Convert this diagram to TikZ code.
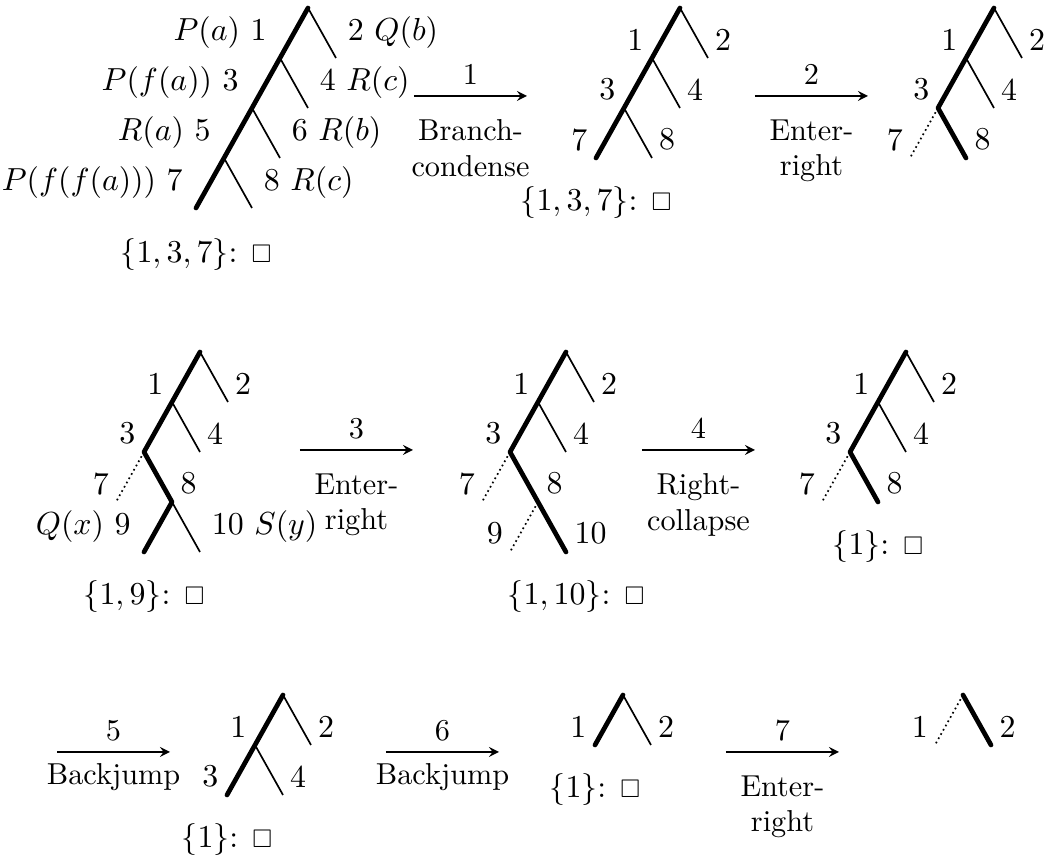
\documentclass[tikz,border=0pt]{standalone}
\usepackage{amsmath, amssymb}
\usepackage{tikz}
\newcommand{\closedmark}{{\footnotesize$\Box$}}
\tikzset{
  openbr/.style={line width=0.53pt},
  closedbr/.style={line width=1.48pt, line cap=round, line join=round},
  donebr/.style={line width=0.53pt, densely dotted},
  labl/.style={midway, left=1.06mm, yshift=-2.1pt},
  labr/.style={midway, right=1.06mm, yshift=-2.1pt},
  mlabl/.style={midway, left=1.59mm},
  mlabr/.style={midway, right=1.59mm},
  rulelab/.style={font=\fontsize{9.5}{11.1}\selectfont, align=center},
}

\begin{document}
\begin{tikzpicture}[>=stealth, x=1.1026cm, y=1.1026cm]
  \useasboundingbox (0,0) rectangle (10.5,8.56);
  % initial tableau
  \begin{scope}[shift={(3.08,8.48)}]
    \coordinate (a0) at (0,0);
    \coordinate (a1) at (-0.28,-0.5); \coordinate (a2) at (0.28,-0.5);
    \coordinate (a3) at (-0.56,-1);   \coordinate (a4) at (0,-1);
    \coordinate (a5) at (-0.84,-1.5); \coordinate (a6) at (-0.28,-1.5);
    \coordinate (a7) at (-1.12,-2);   \coordinate (a8) at (-0.56,-2);
    \draw[closedbr] (a0) -- node[mlabl] (ta1) {$P(a)$ 1} (a1)
      -- node[mlabl] (ta3) {$P(f(a))$ 3} (a3)
      -- node[mlabl] (ta5) {$R(a)$ 5} (a5)
      -- node[mlabl] (ta7) {$P(f(f(a)))$ 7} (a7);
    \draw[openbr] (a0) -- node[mlabr] (ta2) {2 $Q(b)$} (a2);
    \draw[openbr] (a1) -- node[mlabr] (ta4) {4 $R(c)$} (a4);
    \draw[openbr] (a3) -- node[mlabr] (ta6) {6 $R(b)$} (a6);
    \draw[openbr] (a5) -- node[mlabr] (ta8) {8 $R(c)$} (a8);
    \node (ca) at (-1.12,-2.47) {$\{1,3,7\}$: \closedmark};
  \end{scope}
  % after branch-condense
  \begin{scope}[shift={(6.80,8.48)}]
    \coordinate (b0) at (0,0);
    \coordinate (b1) at (-0.28,-0.5); \coordinate (b2) at (0.28,-0.5);
    \coordinate (b3) at (-0.56,-1);   \coordinate (b4) at (0,-1);
    \coordinate (b7) at (-0.84,-1.5); \coordinate (b8) at (-0.28,-1.5);
    \draw[closedbr] (b0) -- node[labl] (tb1) {1} (b1)
      -- node[labl] (tb3) {3} (b3) -- node[labl] (tb7) {7} (b7);
    \draw[openbr] (b0) -- node[labr] (tb2) {2} (b2);
    \draw[openbr] (b1) -- node[labr] (tb4) {4} (b4);
    \draw[openbr] (b3) -- node[labr] (tb8) {8} (b8);
    \node (cb) at (-0.84,-1.95) {$\{1,3,7\}$: \closedmark};
  \end{scope}
  % enter right
  \begin{scope}[shift={(9.94,8.48)}]
    \coordinate (c0) at (0,0);
    \coordinate (c1) at (-0.28,-0.5); \coordinate (c2) at (0.28,-0.5);
    \coordinate (c3) at (-0.56,-1);   \coordinate (c4) at (0,-1);
    \coordinate (c7) at (-0.84,-1.5); \coordinate (c8) at (-0.28,-1.5);
    \draw[closedbr] (c0) -- node[labl] (tc1) {1} (c1)
      -- node[labl] (tc3) {3} (c3) -- node[labr] (tc8) {8} (c8);
    \draw[openbr] (c0) -- node[labr] (tc2) {2} (c2);
    \draw[openbr] (c1) -- node[labr] (tc4) {4} (c4);
    \draw[donebr] (c3) -- node[labl] (tc7) {7} (c7);
  \end{scope}
  % second row
  \begin{scope}[shift={(2.00,5.04)}]
    \coordinate (d0) at (0,0);
    \coordinate (d1) at (-0.28,-0.5); \coordinate (d2) at (0.28,-0.5);
    \coordinate (d3) at (-0.56,-1);   \coordinate (d4) at (0,-1);
    \coordinate (d7) at (-0.84,-1.5); \coordinate (d8) at (-0.28,-1.5);
    \coordinate (d9) at (-0.56,-2);   \coordinate (d10) at (0,-2);
    \draw[closedbr] (d0) -- node[labl] (td1) {1} (d1)
      -- node[labl] (td3) {3} (d3) -- node[labr] (td8) {8} (d8)
      -- node[mlabl] (td9) {$Q(x)$ 9} (d9);
    \draw[openbr] (d0) -- node[labr] (td2) {2} (d2);
    \draw[openbr] (d1) -- node[labr] (td4) {4} (d4);
    \draw[donebr] (d3) -- node[labl] (td7) {7} (d7);
    \draw[openbr] (d8) -- node[mlabr] (td10) {10 $S(y)$} (d10);
    \node (cd) at (-0.56,-2.45) {$\{1,9\}$: \closedmark};
  \end{scope}
  \begin{scope}[shift={(5.66,5.04)}]
    \coordinate (e0) at (0,0);
    \coordinate (e1) at (-0.28,-0.5); \coordinate (e2) at (0.28,-0.5);
    \coordinate (e3) at (-0.56,-1);   \coordinate (e4) at (0,-1);
    \coordinate (e7) at (-0.84,-1.5); \coordinate (e8) at (-0.28,-1.5);
    \coordinate (e9) at (-0.56,-2);   \coordinate (e10) at (0,-2);
    \draw[closedbr] (e0) -- node[labl] (te1) {1} (e1)
      -- node[labl] (te3) {3} (e3) -- node[labr] (te8) {8} (e8)
      -- node[labr] (te10) {10} (e10);
    \draw[openbr] (e0) -- node[labr] (te2) {2} (e2);
    \draw[openbr] (e1) -- node[labr] (te4) {4} (e4);
    \draw[donebr] (e3) -- node[labl] (te7) {7} (e7);
    \draw[donebr] (e8) -- node[labl] (te9) {9} (e9);
    \node (ce) at (0.1,-2.45) {$\{1,10\}$: \closedmark};
  \end{scope}
  \begin{scope}[shift={(9.06,5.04)}]
    \coordinate (f0) at (0,0);
    \coordinate (f1) at (-0.28,-0.5); \coordinate (f2) at (0.28,-0.5);
    \coordinate (f3) at (-0.56,-1);   \coordinate (f4) at (0,-1);
    \coordinate (f7) at (-0.84,-1.5); \coordinate (f8) at (-0.28,-1.5);
    \draw[closedbr] (f0) -- node[labl] (tf1) {1} (f1)
      -- node[labl] (tf3) {3} (f3) -- node[labr] (tf8) {8} (f8);
    \draw[openbr] (f0) -- node[labr] (tf2) {2} (f2);
    \draw[openbr] (f1) -- node[labr] (tf4) {4} (f4);
    \draw[donebr] (f3) -- node[labl] (tf7) {7} (f7);
    \node (cf) at (-0.28,-1.95) {$\{1\}$: \closedmark};
  \end{scope}
  % third row
  \begin{scope}[shift={(2.83,1.61)}]
    \coordinate (g0) at (0,0);
    \coordinate (g1) at (-0.28,-0.5); \coordinate (g2) at (0.28,-0.5);
    \coordinate (g3) at (-0.56,-1);   \coordinate (g4) at (0,-1);
    \draw[closedbr] (g0) -- node[labl] (tg1) {1} (g1)
      -- node[labl] (tg3) {3} (g3);
    \draw[openbr] (g0) -- node[labr] (tg2) {2} (g2);
    \draw[openbr] (g1) -- node[labr] (tg4) {4} (g4);
    \node (cg) at (-0.56,-1.45) {$\{1\}$: \closedmark};
  \end{scope}
  \begin{scope}[shift={(6.23,1.61)}]
    \coordinate (h0) at (0,0);
    \coordinate (h1) at (-0.28,-0.5); \coordinate (h2) at (0.28,-0.5);
    \draw[closedbr] (h0) -- node[labl] (th1) {1} (h1);
    \draw[openbr] (h0) -- node[labr] (th2) {2} (h2);
    \node (ch) at (-0.28,-0.95) {$\{1\}$: \closedmark};
  \end{scope}
  \begin{scope}[shift={(9.63,1.61)}]
    \coordinate (i0) at (0,0);
    \coordinate (i1) at (-0.28,-0.5); \coordinate (i2) at (0.28,-0.5);
    \draw[donebr] (i0) -- node[labl] (ti1) {1} (i1);
    \draw[closedbr] (i0) -- node[labr] (ti2) {2} (i2);
  \end{scope}
  % rule steps
  \foreach \k/\x/\y/\dy/\txt in {1/4.14/7.60/1.38mm/{Branch-\\condense},
      2/7.55/7.60/1.38mm/{Enter-\\right}, 3/3.00/4.06/1.38mm/{Enter-\\right},
      4/6.42/4.06/1.38mm/{Right-\\collapse}, 5/0.57/1.04/0mm/Backjump,
      6/3.86/1.04/0mm/Backjump, 7/7.26/1.04/1.38mm/{Enter-\\right}} {
    \coordinate (s\k) at (\x,\y);
    \coordinate (e\k) at ({\x+1.13},\y);
    \draw[->] (s\k) -- node[above, rulelab] (n\k) {\k}
      node[below=\dy, rulelab] (r\k) {\txt} (e\k);
  }
\end{tikzpicture}
\end{document}
